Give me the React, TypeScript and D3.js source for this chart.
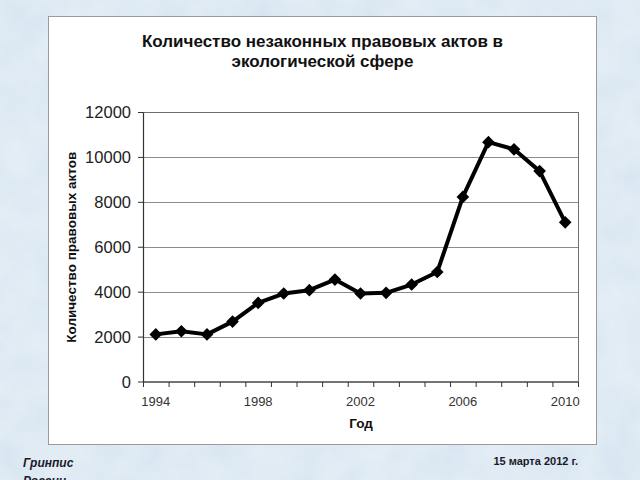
import React from "react";
import * as d3 from "d3";

const years: string[] = ["1994","1995","1996","1997","1998","1999","2000","2001","2002","2003","2004","2005","2006","2007","2008","2009","2010"];
const values: number[] = [2120, 2260, 2120, 2690, 3520, 3940, 4090, 4560, 3940, 3970, 4340, 4900, 8240, 10680, 10360, 9390, 7110];
const yTicks: number[] = [0, 2000, 4000, 6000, 8000, 10000, 12000];
const xLabelYears: string[] = ["1994", "1998", "2002", "2006", "2010"];
const titleLines: string[] = ["Количество незаконных правовых актов в", "экологической сфере"];
const yAxisTitle = "Количество правовых актов";
const xAxisTitle = "Год";
const footerLeft: string[] = ["Гринпис", "России"];
const footerRight = "15 марта 2012 г.";

const FONT = "'Liberation Sans', Arial, sans-serif";

export default function App() {
  const W = 640, H = 480;
  const plot = { left: 143, right: 578, top: 112.5, bottom: 382 };
  const x = d3.scaleBand<string>().domain(years).range([plot.left, plot.right]).padding(0);
  const y = d3.scaleLinear().domain([0, 12000]).range([plot.bottom, plot.top]);
  const cx = (yr: string) => (x(yr) as number) + x.bandwidth() / 2;

  const line = d3.line<number>()
    .x((_, i) => cx(years[i]))
    .y((d) => y(d))
    .curve(d3.curveLinear);

  const marker = d3.symbol().type(d3.symbolSquare).size(80)() as string;

  const boundaries = years.map((yr) => x(yr) as number).concat([plot.right]);

  return (
    <svg width={W} height={H} style={{ position: "absolute", left: 0, top: 0 }} fontFamily={FONT}>
      <defs>
        <filter id="tex" x="0" y="0" width="100%" height="100%">
          <feTurbulence type="fractalNoise" baseFrequency="0.025" numOctaves={3} seed={4} />
          <feColorMatrix type="matrix" values="0 0 0 0 1  0 0 0 0 1  0 0 0 0 1  0 0 0 0.45 0" />
        </filter>
      </defs>
      <rect x={0} y={0} width={W} height={H} fill="#d6e4f0" />
      <rect x={0} y={0} width={W} height={H} filter="url(#tex)" />

      {/* chart box */}
      <rect x={48.5} y={16.5} width={548} height={428} fill="#ffffff" stroke="#9a9a9a" strokeWidth={1} />

      {/* title */}
      {titleLines.map((t, i) => (
        <text key={i} x={322.5} y={47 + i * 19.5} textAnchor="middle" fontSize={17} fontWeight="bold" fill="#111">
          {t}
        </text>
      ))}

      {/* gridlines */}
      {yTicks.filter((v) => v > 0 && v < 12000).map((v) => (
        <line key={v} x1={plot.left} x2={plot.right} y1={Math.round(y(v)) + 0.5} y2={Math.round(y(v)) + 0.5} stroke="#8c8c8c" strokeWidth={1} />
      ))}

      {/* plot frame */}
      <rect x={plot.left + 0.5} y={plot.top} width={plot.right - plot.left} height={plot.bottom - plot.top} fill="none" stroke="#6e6e6e" strokeWidth={1} />
      <line x1={plot.left} x2={plot.right} y1={plot.bottom} y2={plot.bottom} stroke="#333" strokeWidth={1.2} />
      <line x1={plot.left + 0.5} x2={plot.left + 0.5} y1={plot.top} y2={plot.bottom} stroke="#333" strokeWidth={1.2} />

      {/* y ticks */}
      {yTicks.map((v) => (
        <g key={v}>
          <line x1={plot.left - 5} x2={plot.left} y1={y(v)} y2={y(v)} stroke="#333" strokeWidth={1} />
          <text x={131} y={y(v)} dy="0.36em" textAnchor="end" fontSize={16.5} fill="#222">{v}</text>
        </g>
      ))}

      {/* x ticks */}
      {boundaries.map((bx, i) => (
        <line key={i} x1={bx + 0.5} x2={bx + 0.5} y1={plot.bottom} y2={plot.bottom + 5} stroke="#333" strokeWidth={1} />
      ))}
      {xLabelYears.map((yr) => (
        <text key={yr} x={cx(yr)} y={406} textAnchor="middle" fontSize={13} fill="#333">{yr}</text>
      ))}

      {/* axis titles */}
      <text x={361} y={428} textAnchor="middle" fontSize={13.5} fontWeight="bold" fill="#111">{xAxisTitle}</text>
      <text transform={`translate(76, ${(plot.top + plot.bottom) / 2}) rotate(-90)`} textAnchor="middle" fontSize={13.5} fontWeight="bold" fill="#111">{yAxisTitle}</text>

      {/* series */}
      <path d={line(values) as string} fill="none" stroke="#000" strokeWidth={4} strokeLinejoin="round" />
      {values.map((v, i) => (
        <path key={i} d={marker} transform={`translate(${cx(years[i])}, ${y(v)}) rotate(45)`} fill="#000" />
      ))}

      {/* footer */}
      <text x={23} y={467} fontSize={12} fontWeight="bold" fontStyle="italic" fill="#1a1a2a">{footerLeft[0]}</text>
      <text x={23} y={485} fontSize={12} fontWeight="bold" fontStyle="italic" fill="#1a1a2a">{footerLeft[1]}</text>
      <text x={578} y={465} textAnchor="end" fontSize={11} fontWeight="bold" fill="#1a1a2a">{footerRight}</text>
    </svg>
  );
}
